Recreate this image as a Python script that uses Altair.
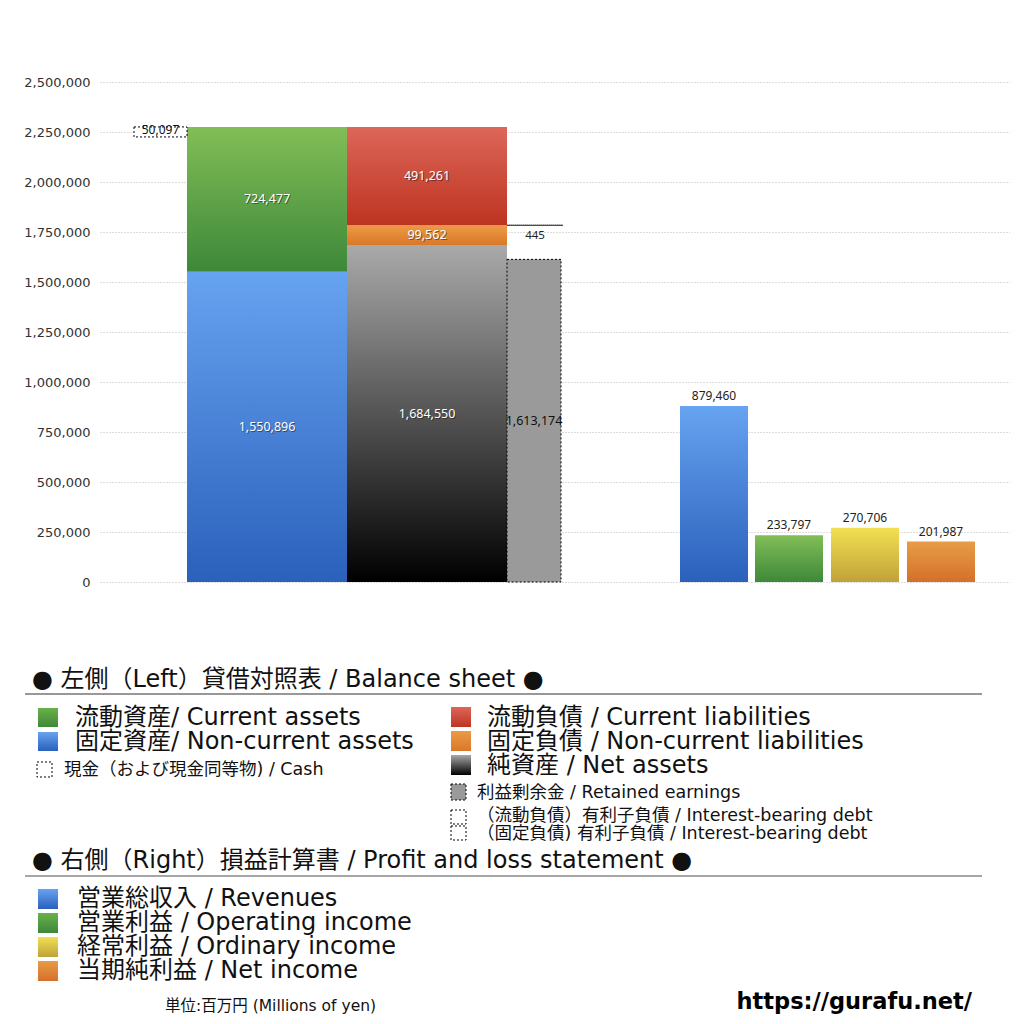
import altair as alt
import pandas as pd

# ---------------- values (millions of yen) ----------------
asset_names = ["固定資産", "流動資産"]
asset_values = [1550896, 724477]
liab_names = ["純資産", "固定負債", "流動負債"]
liab_values = [1684550, 99562, 491261]
cash_value = 50097
retained_earnings = 1613174
debt_noncurrent = 445
pl_names = ["営業総収入", "営業利益", "経常利益", "当期純利益"]
pl_values = [879460, 233797, 270706, 201987]
y_ticks = [0, 250000, 500000, 750000, 1000000, 1250000, 1500000, 1750000,
           2000000, 2250000, 2500000]

# ---------------- layout (slots on a hidden horizontal axis) ----------------
SLOT_ASSETS = (87, 247)
SLOT_LIAB = (247, 407)
SLOT_CASH = (34, 87)
SLOT_RE = (407, 461)
SLOT_DEBT = (407, 463)
SLOTS_PL = [(580, 648), (655, 723), (731, 799), (807, 875)]

JP = "DejaVu Sans, Noto Sans CJK JP"
NUM = "Noto Sans"

OX, OY = 100, 8  # view origin on the page
yscale = alt.Scale(domain=[0, 2500000], range=[582 - OY, 82 - OY], nice=False, zero=True)
xscale = alt.Scale(domain=[0, 910], nice=False, zero=False)

axis_y = alt.Axis(values=y_ticks, format=",d", grid=True, gridDash=[1, 2],
                  gridColor="#b8b8b8", gridWidth=1, domain=False, ticks=False,
                  labelPadding=10, labelFontSize=13, labelColor="#333",
                  labelFont="DejaVu Sans", title=None)


def grad(top, bottom):
    return alt.Gradient(
        gradient="linear",
        stops=[alt.GradientStop(color=top, offset=0),
               alt.GradientStop(color=bottom, offset=1)],
        x1=0, x2=0, y1=0, y2=1,
    )


def bar(name, lo, hi, slot, fill, **kw):
    df = pd.DataFrame({"name": [name], "lo": [lo], "hi": [hi],
                       "x0": [slot[0]], "x1": [slot[1]]})
    return alt.Chart(df).mark_bar(fill=fill, **kw).encode(
        x=alt.X("x0:Q", scale=xscale, axis=None),
        x2="x1:Q",
        y=alt.Y("lo:Q", scale=yscale, axis=axis_y),
        y2="hi:Q",
    )


def label(value, ypos, slot, color="white", shadow=True, dy=0, baseline="middle", size=12.5):
    df = pd.DataFrame({"v": [value], "y": [ypos], "x": [(slot[0] + slot[1]) / 2]})
    base = alt.Chart(df).encode(
        x=alt.X("x:Q", scale=xscale, axis=None),
        y=alt.Y("y:Q", scale=yscale, axis=axis_y),
        text=alt.Text("v:Q", format=",d"),
    )
    layers = []
    if shadow:
        layers.append(base.mark_text(font=NUM, fontSize=size, color="#222", opacity=0.55,
                                     dx=1, dy=dy + 1, baseline=baseline))
    layers.append(base.mark_text(font=NUM, fontSize=size, color=color, dy=dy, baseline=baseline))
    return layers


layers = []

# ---- left: balance sheet ----
a_lo = [0, asset_values[0]]
a_hi = [asset_values[0], asset_values[0] + asset_values[1]]
total_assets = a_hi[1]
layers.append(bar(asset_names[0], a_lo[0], a_hi[0], SLOT_ASSETS, grad("#66a3f0", "#2b60bb")))
layers.append(bar(asset_names[1], a_lo[1], a_hi[1], SLOT_ASSETS, grad("#82be57", "#3d8839")))

l_lo = [0, liab_values[0], liab_values[0] + liab_values[1]]
l_hi = [liab_values[0], liab_values[0] + liab_values[1], sum(liab_values)]
layers.append(bar(liab_names[0], l_lo[0], l_hi[0], SLOT_LIAB, grad("#a9a9a9", "#000000")))
layers.append(bar(liab_names[1], l_lo[1], l_hi[1], SLOT_LIAB, grad("#ec9a45", "#d9782a")))
layers.append(bar(liab_names[2], l_lo[2], l_hi[2], SLOT_LIAB, grad("#dd665a", "#bd3420")))

# cash (dashed box at top of assets)
layers.append(bar("現金", total_assets - cash_value, total_assets, SLOT_CASH, "white",
                  stroke="black", strokeDash=[2, 2], strokeWidth=1))
# retained earnings
layers.append(bar("利益剰余金", 0, retained_earnings, SLOT_RE, "#9a9a9a",
                  stroke="black", strokeDash=[2, 2], strokeWidth=1))
# interest-bearing debt (non-current)
layers.append(bar("有利子負債", l_hi[1] - debt_noncurrent, l_hi[1], SLOT_DEBT, "white",
                  stroke="black", strokeDash=[1, 1], strokeWidth=1))

# labels
layers += label(asset_values[0], (a_lo[0] + a_hi[0]) / 2, SLOT_ASSETS)
layers += label(asset_values[1], (a_lo[1] + a_hi[1]) / 2, SLOT_ASSETS)
for v, lo, hi in zip(liab_values, l_lo, l_hi):
    layers += label(v, (lo + hi) / 2, SLOT_LIAB)
layers += label(cash_value, total_assets - cash_value / 2, SLOT_CASH, color="#111",
                shadow=False, dy=-2, size=12)
layers += label(retained_earnings, retained_earnings / 2, SLOT_RE, color="#111", shadow=False)
layers += label(debt_noncurrent, l_hi[1], SLOT_DEBT, color="#222", shadow=False,
                dy=5, baseline="top", size=11.5)

# ---- right: P&L ----
pl_grads = [grad("#66a3f0", "#2b60bb"), grad("#82be57", "#3d8839"),
            grad("#f3df52", "#bfa23a"), grad("#e89c47", "#d4702a")]
for n, v, s, g in zip(pl_names, pl_values, SLOTS_PL, pl_grads):
    layers.append(bar(n, 0, v, s, g))
    layers += label(v, v, s, color="#222", shadow=False, dy=-3, baseline="bottom", size=12)

# ---------------- legend (decoration, page-pixel placement) ----------------
dummy = pd.DataFrame({"k": [0]})


def txt(s, px, py, size, color="#111", font=JP, weight="normal", align="left"):
    return alt.Chart(dummy).mark_text(text=s, font=font, fontSize=size, color=color,
                                      fontWeight=weight, align=align, baseline="middle").encode(
        x=alt.value(px - OX), y=alt.value(py - OY))


def sq(x0, y0, x1, y1, fill, dashed=False):
    kw = {}
    if dashed:
        kw = dict(stroke="black", strokeDash=[2, 2], strokeWidth=1)
    return alt.Chart(dummy).mark_rect(fill=fill, **kw).encode(
        x=alt.value(x0 - OX), x2=alt.value(x1 - OX), y=alt.value(y0 - OY), y2=alt.value(y1 - OY))


def hline(x0, x1, py, color, w):
    return alt.Chart(dummy).mark_rule(color=color, strokeWidth=w).encode(
        x=alt.value(x0 - OX), x2=alt.value(x1 - OX), y=alt.value(py - OY))


BIG = 24
SMALL = 17.5
leg = []
leg.append(txt("● 左側（Left）貸借対照表 / Balance sheet ●", 32, 680, BIG))
leg.append(hline(25, 982, 694, "#333", 1.2))
leg.append(sq(38, 708, 58, 727, grad("#6ab14a", "#3d8839")))
leg.append(txt("流動資産/ Current assets", 75, 718, BIG))
leg.append(sq(38, 732, 58, 751, grad("#66a3f0", "#2b60bb")))
leg.append(txt("固定資産/ Non-current assets", 75, 742, BIG))
leg.append(sq(37, 762, 52, 777, "white", dashed=True))
leg.append(txt("現金（および現金同等物) / Cash", 64, 770, SMALL))

leg.append(sq(451, 707, 471, 727, grad("#dd665a", "#bd3420")))
leg.append(txt("流動負債 /  Current liabilities", 487, 718, BIG))
leg.append(sq(451, 731, 471, 751, grad("#ec9a45", "#d9782a")))
leg.append(txt("固定負債 / Non-current liabilities", 487, 742, BIG))
leg.append(sq(451, 755, 471, 775, grad("#a9a9a9", "#000000")))
leg.append(txt("純資産 / Net assets", 487, 766, BIG))
leg.append(sq(451, 784, 466, 800, "#9a9a9a", dashed=True))
leg.append(txt("利益剰余金 / Retained earnings", 477, 793, SMALL))
leg.append(sq(451, 810, 466, 824, "white", dashed=True))
leg.append(txt("（流動負債）有利子負債 / Interest-bearing debt", 477, 816, SMALL))
leg.append(sq(451, 826, 466, 840, "white", dashed=True))
leg.append(txt("（固定負債) 有利子負債 / Interest-bearing debt", 477, 834, SMALL))

leg.append(txt("● 右側（Right）損益計算書 / Profit and loss statement ●", 32, 861, BIG))
leg.append(hline(25, 982, 876, "#888", 1.5))
leg.append(sq(38, 889, 58, 909, grad("#66a3f0", "#2b60bb")))
leg.append(txt("営業総収入 / Revenues", 77, 899, BIG))
leg.append(sq(38, 913, 58, 933, grad("#6ab14a", "#3d8839")))
leg.append(txt("営業利益 / Operating income", 77, 923, BIG))
leg.append(sq(38, 937, 58, 957, grad("#f3df52", "#bfa23a")))
leg.append(txt("経常利益 / Ordinary income", 77, 947, BIG))
leg.append(sq(38, 961, 58, 981, grad("#e89c47", "#d4702a")))
leg.append(txt("当期純利益 / Net income", 77, 971, BIG))

leg.append(txt("単位:百万円 (Millions of yen)", 165, 1006, 15.5))
leg.append(txt("https://gurafu.net/", 972, 1002, 22.5, color="#000",
               font="DejaVu Sans", weight="bold", align="right"))

chart = alt.layer(*layers, *leg).properties(
    width=910,
    height=1006,
    autosize=alt.AutoSizeParams(type="none"),
    padding={"left": 92, "top": 0, "right": 0, "bottom": 0},
    background="white",
).configure_view(stroke=None)

chart.save("out.html", embed_options={"renderer": "svg", "actions": False})
